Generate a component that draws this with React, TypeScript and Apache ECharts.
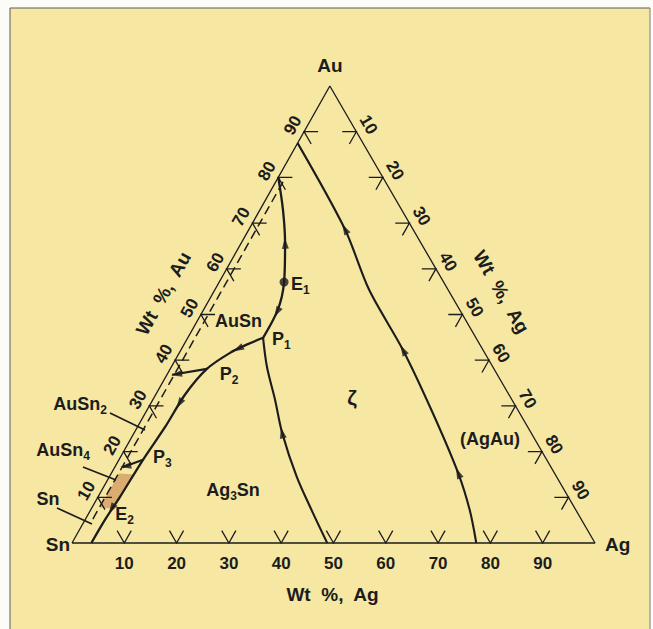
import { useEffect, useRef } from "react";
import * as echarts from "echarts";

// Every composition is [wt% Ag, wt% Au]; Sn makes up the balance.
const AG_TICKS = [10, 20, 30, 40, 50, 60, 70, 80, 90];
const AU_TICKS = [10, 20, 30, 40, 50, 60, 70, 80, 90];

const TRIANGLE = [[0, 0], [100, 0], [0, 100], [0, 0]];

// Liquidus valley from the Au–Sn side down through E1 to P1
const VALLEY_AU_P1 = [[0, 80], [4.4, 72.9], [8.4, 65.6], [12.4, 57.1], [14.2, 51.0], [14.4, 44.9]];
// Valley P1 → P2 → P3 → E2 → Ag–Sn side
const VALLEY_P1_E2 = [
  [14.4, 44.9], [12.0, 43.4], [9.7, 41.6], [7.0, 38.1], [5.6, 32.5],
  [5.3, 25.5], [4.6, 18.2], [4.2, 10.1], [3.8, 5.0], [3.7, 0],
];
const BRANCH_P2 = [[7.0, 38.1], [1.0, 36.8]];
const BRANCH_P3 = [[4.6, 18.2], [1.5, 16.6]];
// ζ / Ag3Sn boundary
const VALLEY_P1_AG = [[14.4, 44.9], [18.3, 38.5], [23.4, 31.3], [28.3, 24.1], [35.9, 14.4], [42.8, 6.6], [48.8, 0]];
// (AgAu) / ζ boundary
const VALLEY_AU_AG = [[0, 87.5], [18.3, 68.7], [29.5, 55.4], [42.5, 42.2], [55.0, 28.4], [66.3, 15.3], [72.5, 7.2], [77.3, 0]];
// Dashed line along the Au–Sn side
const DASHED_AU_SN = [[1.4, 79], [1.4, 5]];
// Sn-rich primary field
const SN_FIELD = [[1.5, 15.2], [4.5, 15.0], [4.2, 10.1], [3.9, 7.5], [1.5, 7.8]];

const E1 = [12.4, 57.1];
const P1 = [14.4, 44.9];
const P2 = [7.0, 38.1];
const P3 = [4.6, 18.2];
const E2 = [3.8, 6.0];

// Direction arrows on the valleys: [head position, point it heads toward]
const ARROWS = [
  [[8.4, 65.6], [4.4, 72.9]],
  [[14.3, 50.5], [14.4, 44.9]],
  [[10.8, 42.5], [9.7, 41.6]],
  [[5.5, 30.5], [5.3, 25.5]],
  [[1.8, 36.9], [0, 36.5]],
  [[2.0, 16.8], [0, 16.4]],
  [[3.9, 7.5], [3.8, 5.0]],
  [[28.3, 24.1], [23.4, 31.3]],
  [[18.3, 68.7], [0, 87.5]],
  [[42.5, 42.2], [29.5, 55.4]],
  [[66.3, 15.3], [55.0, 28.4]],
];

const INK = "#1c1c1c";
const FONT = "'Liberation Sans', Arial, Helvetica, sans-serif";
const PAPER = "#F6E7A3";
const SKEW = 0.493; // horizontal position of the Au apex as a fraction of the base
const TICK = 2.7;

const xy = (p: number[]) => [p[0] + SKEW * p[1], p[1]];

export default function App() {
  const ref = useRef<HTMLDivElement>(null);

  useEffect(() => {
    const el = ref.current;
    if (!el) return;
    const chart = echarts.init(el, null, { renderer: "svg" });

    const curve = (id: string, data: number[][], width: number, extra: any = {}) => ({
      id,
      type: "line",
      data: data.map(xy),
      smooth: 0.3,
      symbol: "none",
      silent: true,
      clip: false,
      lineStyle: { color: INK, width },
      z: 4,
      ...extra,
    });

    const tickPaths: number[][][] = [];
    AG_TICKS.forEach((v) => tickPaths.push([[v - TICK, TICK], [v, 0], [v, TICK]]));
    AG_TICKS.forEach((v) =>
      tickPaths.push([[v - TICK, 100 - v], [v, 100 - v], [v, 100 - v - TICK]])
    );
    AU_TICKS.forEach((v) => tickPaths.push([[TICK, v], [0, v], [TICK, v - TICK]]));

    chart.setOption({
      animation: false,
      backgroundColor: "#fbfbf8",
      grid: { left: 72, top: 86, width: 523, height: 457 },
      xAxis: { type: "value", min: 0, max: 100, show: false },
      yAxis: { type: "value", min: 0, max: 100, show: false },
      series: [
        {
          id: "snField",
          type: "custom",
          silent: true,
          data: [[0, 0]],
          z: 2,
          renderItem: (_params: any, api: any) => ({
            type: "polygon",
            shape: { points: SN_FIELD.map((p) => api.coord(xy(p))) },
            style: { fill: "#D7A56D", opacity: 0.9 },
          }),
        },
        curve("edges", TRIANGLE, 1.3, { smooth: false }),
        curve("dashed", DASHED_AU_SN, 1.5, {
          smooth: false,
          lineStyle: { color: INK, width: 1.5, type: [9, 5] },
        }),
        curve("auE1P1", VALLEY_AU_P1, 2.3),
        curve("p1E2", VALLEY_P1_E2, 2.3),
        curve("branchP2", BRANCH_P2, 2.1, { smooth: false }),
        curve("branchP3", BRANCH_P3, 2.1, { smooth: false }),
        curve("p1Ag", VALLEY_P1_AG, 2.1),
        curve("auAg", VALLEY_AU_AG, 2.1),
        {
          id: "ticks",
          type: "lines",
          coordinateSystem: "cartesian2d",
          polyline: true,
          silent: true,
          clip: false,
          data: tickPaths.map((c) => ({ coords: c.map(xy) })),
          lineStyle: { color: INK, width: 1.3, opacity: 1 },
          z: 3,
        },
        {
          id: "e1",
          type: "scatter",
          silent: true,
          data: [xy(E1)],
          symbol: "circle",
          symbolSize: 9,
          itemStyle: { color: INK },
          z: 6,
        },
        {
          id: "arrows",
          type: "scatter",
          silent: true,
          data: [],
          symbol: "triangle",
          symbolSize: [7, 11],
          itemStyle: { color: INK },
          z: 6,
        },
      ],
    });

    const px = (p: number[]) => chart.convertToPixel({ gridIndex: 0 }, xy(p)) as number[];

    const arrowData = ARROWS.map(([at, to]) => {
      const a = px(at);
      const b = px(to);
      const rot = (Math.atan2(-(b[0] - a[0]), -(b[1] - a[1])) * 180) / Math.PI;
      return { value: xy(at), symbolRotate: rot };
    });

    const rich = {
      m: { fontSize: 18, lineHeight: 24, fill: INK, fontFamily: FONT, fontWeight: "bold" },
      s: { fontSize: 12, lineHeight: 12, verticalAlign: "bottom", fill: INK, fontFamily: FONT, fontWeight: "bold" },
    };

    const text = (
      x: number,
      y: number,
      t: string,
      o: { size?: number; align?: string; rotation?: number; rich?: boolean } = {}
    ) => {
      const align = o.align ?? "center";
      return {
        type: "text",
        x,
        y,
        z: 50,
        silent: true,
        rotation: o.rotation ?? 0,
        style: {
          text: t,
          fill: INK,
          fontSize: o.size ?? 18,
          fontWeight: "bold",
          fontFamily: FONT,
          align,
          textAlign: align,
          verticalAlign: "middle",
          textVerticalAlign: "middle",
          ...(o.rich ? { rich } : {}),
        },
      };
    };

    const sn = px([0, 0]);
    const ag = px([100, 0]);
    const au = px([0, 100]);

    const unit = (a: number[], b: number[]) => {
      const dx = b[0] - a[0];
      const dy = b[1] - a[1];
      const l = Math.hypot(dx, dy);
      return [dx / l, dy / l];
    };
    const dRight = unit(au, ag);
    const nRight = [dRight[1], -dRight[0]];
    const rotRight = -Math.atan2(dRight[1], dRight[0]);
    const dLeft = unit(sn, au);
    const nLeft = [dLeft[1], -dLeft[0]];
    const rotLeft = -Math.atan2(dLeft[1], dLeft[0]);

    const elements: any[] = [
      {
        type: "rect",
        z: -100,
        silent: true,
        shape: { x: 10, y: 8, width: 640, height: 621 },
        style: { fill: PAPER },
      },
      { type: "line", z: 60, silent: true, shape: { x1: 10, y1: 8, x2: 650, y2: 8 }, style: { stroke: "#5a5a5a", lineWidth: 1 } },
      { type: "line", z: 60, silent: true, shape: { x1: 10, y1: 8, x2: 10, y2: 629 }, style: { stroke: "#5a5a5a", lineWidth: 1 } },
      { type: "line", z: 60, silent: true, shape: { x1: 650, y1: 8, x2: 650, y2: 629 }, style: { stroke: "#7a7a7a", lineWidth: 1 } },
    ];

    // Axis numbers
    AG_TICKS.forEach((v) => {
      const p = px([v, 0]);
      elements.push(text(p[0], p[1] + 20, String(v), { size: 17 }));
    });
    AG_TICKS.forEach((v) => {
      const p = px([v, 100 - v]);
      elements.push(text(p[0] + 14 * nRight[0], p[1] + 14 * nRight[1], String(v), { size: 17, rotation: rotRight }));
    });
    AU_TICKS.forEach((v) => {
      const p = px([0, v]);
      elements.push(text(p[0] + 13 * nLeft[0], p[1] + 13 * nLeft[1], String(v), { size: 17, rotation: rotLeft }));
    });

    // Axis titles
    const mb = px([50, 0]);
    elements.push(text(mb[0] - 1, mb[1] + 51, "Wt  %,  Ag", { size: 19 }));
    const mr = px([50, 50]);
    elements.push(text(mr[0] + 45 * nRight[0], mr[1] + 45 * nRight[1], "Wt  %,  Ag", { size: 19, rotation: rotRight }));
    const ml = px([0, 50]);
    elements.push(text(ml[0] + 43 * nLeft[0], ml[1] + 43 * nLeft[1], "Wt  %,  Au", { size: 19, rotation: rotLeft }));

    // Corner labels
    elements.push(text(au[0], au[1] - 21, "Au", { size: 19 }));
    elements.push(text(sn[0] - 2, sn[1] + 1, "Sn", { align: "right", size: 19 }));
    elements.push(text(ag[0] + 10, ag[1] + 1, "Ag", { align: "left", size: 19 }));

    // Invariant points
    const sub = (m: string, s: string) => `{m|${m}}{s|${s}}`;
    const e1 = px(E1);
    elements.push(text(e1[0] + 7, e1[1] + 2, sub("E", "1"), { align: "left", rich: true }));
    const p1 = px(P1);
    elements.push(text(p1[0] + 9, p1[1] + 1, sub("P", "1"), { align: "left", rich: true }));
    const p2 = px(P2);
    elements.push(text(p2[0] + 13, p2[1] + 5, sub("P", "2"), { align: "left", rich: true }));
    const p3 = px(P3);
    elements.push(text(p3[0] + 10, p3[1] - 3, sub("P", "3"), { align: "left", rich: true }));
    const e2 = px(E2);
    elements.push(text(e2[0] + 8, e2[1] - 2, sub("E", "2"), { align: "left", rich: true }));

    // Phase fields
    const auSnTick = px([0, 50]);
    elements.push(text(auSnTick[0] + 14, auSnTick[1] + 6, "AuSn", { align: "left" }));
    elements.push(text(352, 397, "ζ", { size: 21 }));
    elements.push(text(233, 490, "{m|Ag}{s|3}{m|Sn}", { rich: true }));
    elements.push(text(490, 439, "(AgAu)"));

    // Binary compounds on the Au–Sn side, with leaders
    elements.push(text(107, 404, sub("AuSn", "2"), { align: "right", rich: true }));
    elements.push(text(90, 450, sub("AuSn", "4"), { align: "right", rich: true }));
    elements.push(text(48, 499, "Sn"));
    [
      [110, 413, 145, 430],
      [83, 467, 116, 480],
      [57, 508, 92, 524],
    ].forEach(([x1, y1, x2, y2]) =>
      elements.push({
        type: "line",
        z: 40,
        silent: true,
        shape: { x1, y1, x2, y2 },
        style: { stroke: INK, lineWidth: 1.7 },
      })
    );

    chart.setOption({
      series: [{ id: "arrows", data: arrowData }],
      graphic: { elements },
    });

    return () => chart.dispose();
  }, []);

  return (
    <div
      ref={ref}
      style={{ position: "fixed", left: 0, top: 0, width: 653, height: 629 }}
    />
  );
}
